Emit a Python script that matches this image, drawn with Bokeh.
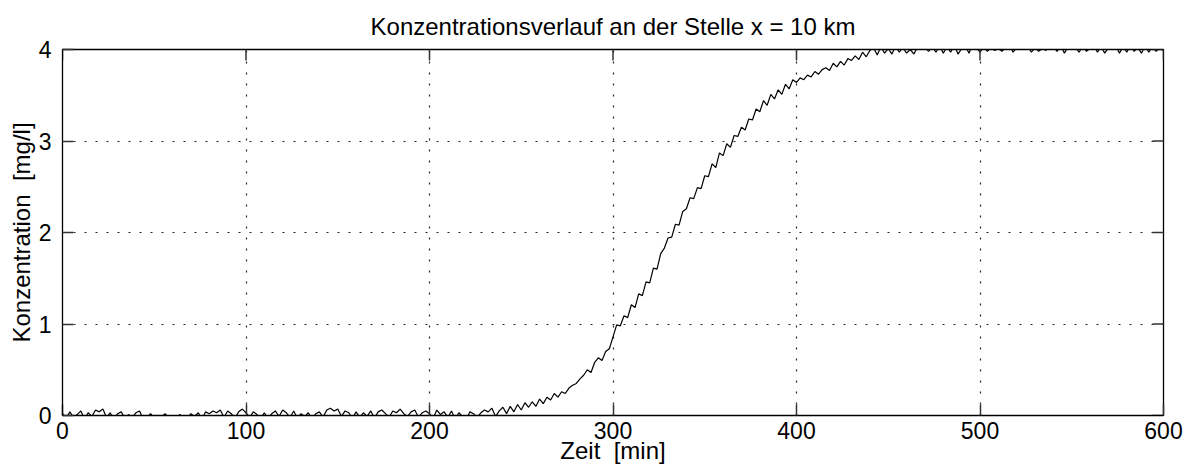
import math
from bokeh.plotting import figure
from bokeh.models import FixedTicker, Range1d
from bokeh.embed import file_html
from bokeh.resources import INLINE

title_text = "Konzentrationsverlauf an der Stelle x = 10 km"
x_label = "Zeit \u00a0[min]"
y_label = "Konzentration \u00a0[mg/l]"
x_ticks = [0, 100, 200, 300, 400, 500, 600]
y_ticks = [0, 1, 2, 3, 4]

# time axis of the measurement (minutes, every 2 min)
times = list(range(0, 601, 2))

# concentration values [mg/l]
base_0_238 = [
    0.02, -0.03, 0.04, -0.02, 0.01, 0.05, -0.04, 0.03, -0.01, 0.06,
    0.04, 0.07, -0.02, 0.03, -0.05, 0.02, 0.04, -0.03, 0.01, -0.02,
    0.03, 0.05, -0.04, -0.02, 0.02, -0.03, -0.05, -0.01, 0.02, -0.04,
    -0.03, -0.02, 0.01, -0.05, -0.03, 0.02, -0.01, 0.03, -0.04, 0.04,
    0.02, 0.05, 0.03, 0.06, -0.02, 0.05, 0.02, -0.03, 0.04, 0.07,
    0.03, -0.02, 0.04, 0.01, -0.03, 0.03, -0.04, 0.02, 0.05, -0.01,
    0.06, 0.03, -0.02, 0.05, -0.03, 0.02, -0.01, 0.03, -0.04, 0.02,
    0.04, -0.02, 0.06, 0.08, 0.05, 0.07, -0.01, 0.05, 0.03, -0.03,
    0.04, -0.02, 0.03, -0.01, 0.05, -0.03, 0.04, 0.06, 0.02, -0.02,
    0.05, 0.03, 0.07, 0.02, -0.01, 0.04, 0.06, -0.02, 0.03, 0.05,
    0.02, -0.03, 0.06, 0.01, 0.04, -0.02, 0.05, -0.04, 0.03, -0.01,
    -0.05, 0.04, 0.02, -0.02, 0.03, 0.06, 0.04, 0.08, -0.01, 0.05,
]
rise_240_298 = [
    0.09, 0.02, 0.10, 0.04, 0.12, 0.06, 0.14, 0.09, 0.15, 0.10,
    0.18, 0.13, 0.20, 0.17, 0.24, 0.20, 0.26, 0.24, 0.30, 0.33,
    0.35, 0.40, 0.44, 0.50, 0.47, 0.58, 0.63, 0.60, 0.70, 0.73,
]
rise_300_328 = [0.86, 0.99, 0.98, 1.09, 1.07, 1.21, 1.18, 1.33, 1.31, 1.46,
                1.45, 1.61, 1.60, 1.77, 1.83]
rise_330_368 = [1.94, 1.95, 2.09, 2.08, 2.23, 2.26, 2.38, 2.37, 2.49, 2.48,
                2.62, 2.61, 2.75, 2.71, 2.87, 2.84, 2.97, 2.93, 3.06, 3.05]
rise_370_400 = [3.15, 3.12, 3.24, 3.23, 3.35, 3.32, 3.44, 3.39, 3.51, 3.46,
                3.56, 3.51, 3.62, 3.57, 3.67, 3.64]
rise_402_440 = [3.69, 3.67, 3.72, 3.70, 3.76, 3.73, 3.78, 3.80, 3.77, 3.85,
                3.81, 3.87, 3.83, 3.90, 3.88, 3.93, 3.89, 3.97, 3.92, 3.99]
plateau_442_600 = [
    4.02, 3.94, 4.03, 3.96, 4.01, 3.95, 4.04, 3.97, 4.02, 3.96,
    4.00, 3.95, 4.03, 4.05, 4.02, 3.98, 4.03, 3.97, 4.04, 3.96,
    4.03, 3.97, 4.05, 3.95, 4.01, 4.04, 3.96, 4.06, 4.02, 3.97,
    4.03, 3.98, 4.02, 3.99, 4.01, 3.98, 4.03, 4.06, 3.97, 4.02,
    4.05, 4.07, 4.04, 3.97, 4.02, 3.98, 4.01, 3.99, 4.04, 4.03,
    3.98, 4.05, 3.96, 4.03, 4.06, 4.02, 3.97, 4.04, 3.98, 4.01,
    4.05, 3.97, 4.03, 3.96, 4.02, 4.06, 4.04, 3.96, 4.03, 3.97,
    4.05, 3.98, 4.02, 3.96, 4.04, 3.97, 4.03, 3.98, 4.02, 3.99,
]
concentration = (base_0_238 + rise_240_298 + rise_300_328 + rise_330_368
                 + rise_370_400 + rise_402_440 + plateau_442_600)

FONT = "Liberation Sans"
FS_TICK = "23px"
FS_TEXT = "24px"
TICK_COLOR = "#333333"

p = figure(width=1189, height=467, x_range=Range1d(0, 600), y_range=Range1d(0, 4),
           output_backend="svg", toolbar_location=None,
           min_border_left=62, min_border_right=26, min_border_top=49, min_border_bottom=52)
p.background_fill_color = "white"
p.border_fill_color = "white"
p.outline_line_color = "black"
p.outline_line_width = 1.3

# title
p.title.text = title_text
p.title.align = "center"
p.title.text_font = FONT
p.title.text_font_size = FS_TEXT
p.title.text_font_style = "normal"
p.title.text_color = "black"
p.title.standoff = 20

# grid
p.xgrid.ticker = FixedTicker(ticks=x_ticks)
p.ygrid.ticker = FixedTicker(ticks=y_ticks)
for g in (p.xgrid[0], p.ygrid[0]):
    g.grid_line_color = "#222222"
    g.grid_line_dash = "2 9"
    g.grid_line_width = 1.2

# data line
p.line(times, concentration, line_color="black", line_width=1.2)

# axes: ticks pointing inward, MATLAB style
for ax, ticks in ((p.xaxis[0], x_ticks), (p.yaxis[0], y_ticks)):
    ax.ticker = FixedTicker(ticks=ticks)
    ax.major_tick_in = 11
    ax.major_tick_out = 0
    ax.minor_tick_line_color = None
    ax.axis_line_color = "black"
    ax.major_tick_line_color = TICK_COLOR
    ax.major_tick_line_width = 1.5
    ax.major_label_text_font = FONT
    ax.major_label_text_font_size = FS_TICK
    ax.major_label_text_color = "black"
    ax.axis_label_text_font = FONT
    ax.axis_label_text_font_size = FS_TEXT
    ax.axis_label_text_font_style = "normal"
    ax.axis_label_text_color = "black"

p.xaxis[0].major_label_standoff = 6
p.xaxis[0].axis_label = x_label
p.xaxis[0].axis_label_standoff = -5

p.yaxis[0].major_label_standoff = 11
p.yaxis[0].axis_label = y_label
p.yaxis[0].axis_label_standoff = 1

# inward tick marks on the top and right edges of the box (outer half is clipped by the frame)
p.scatter(x_ticks, [4] * len(x_ticks), marker="dash", size=22, angle=math.pi / 2,
          line_color=TICK_COLOR, line_width=1.5)
p.scatter([600] * len(y_ticks), y_ticks, marker="dash", size=22, angle=0,
          line_color=TICK_COLOR, line_width=1.5)

open("out.html", "w").write(file_html(p, INLINE))
